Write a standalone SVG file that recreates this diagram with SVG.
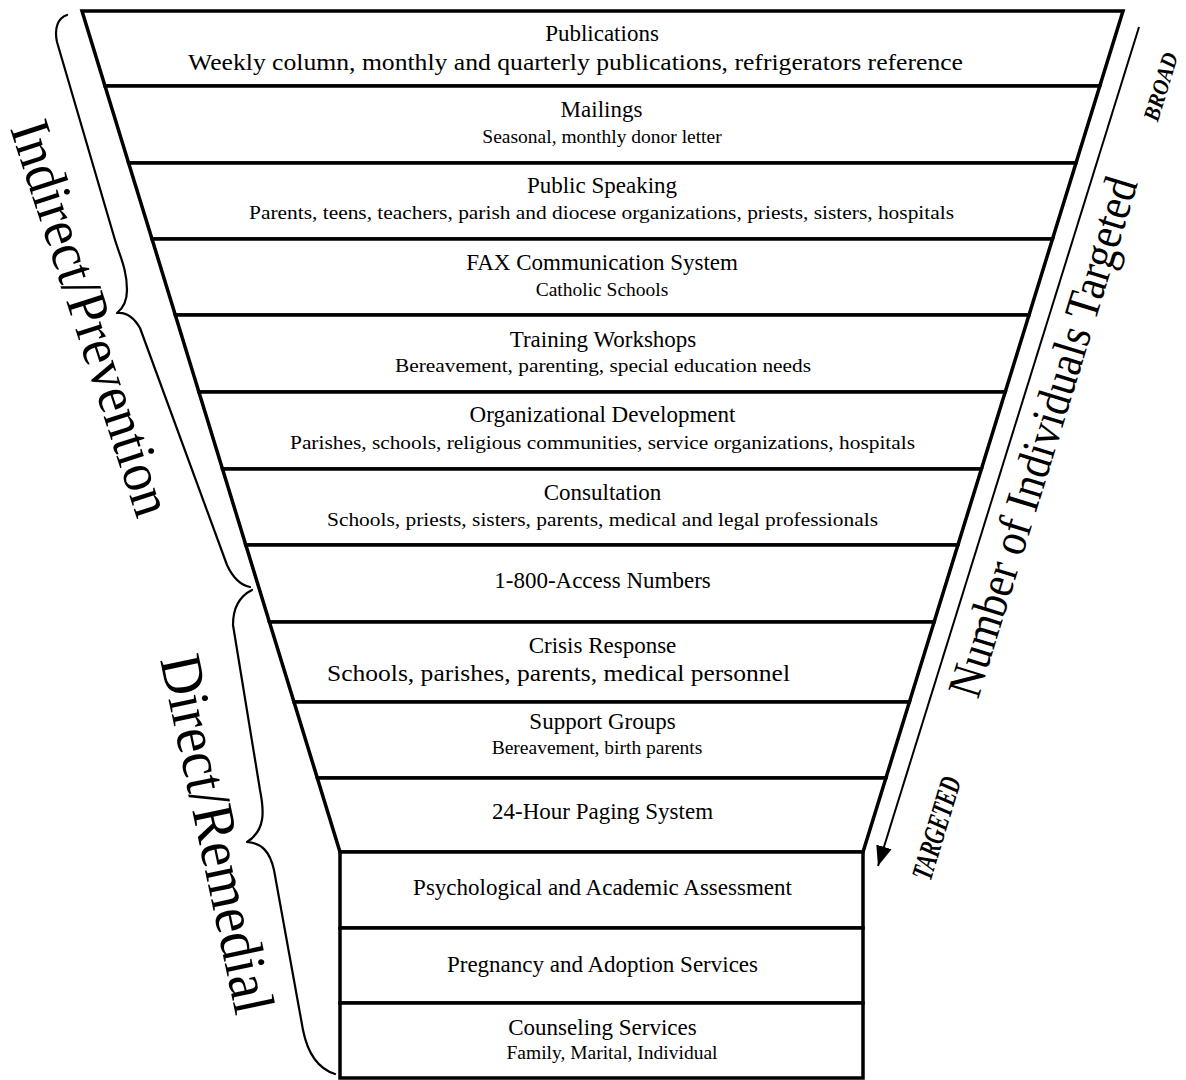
<svg xmlns="http://www.w3.org/2000/svg" width="1186" height="1080" viewBox="0 0 1186 1080">
<defs>
<style>
.band{fill:#fff;stroke:#000;stroke-width:3.5;stroke-linejoin:miter}
.t{font-family:"Liberation Serif","Times New Roman",serif;font-size:23px;fill:#000;text-anchor:middle}
.s{font-family:"Liberation Serif","Times New Roman",serif;font-size:19.5px;fill:#000;text-anchor:middle}
.sl{font-family:"Liberation Serif","Times New Roman",serif;font-size:23px;fill:#000;text-anchor:middle}
.big{font-family:"Liberation Serif","Times New Roman",serif;fill:#000;text-anchor:middle}
.tag{font-family:"Liberation Serif","Times New Roman",serif;font-weight:bold;font-style:italic;fill:#000;text-anchor:middle}
.brace{fill:none;stroke:#000;stroke-width:2.2;stroke-linecap:round;stroke-linejoin:round}
.conn{fill:none;stroke:#000;stroke-width:2}
</style>
<marker id="ah" markerUnits="userSpaceOnUse" markerWidth="24" markerHeight="20" refX="20" refY="8" orient="auto">
<path d="M0,0 L20,8 L0,16 Z" fill="#000"/>
</marker>
</defs>
<rect width="1186" height="1080" fill="#fff"/>

<g id="n-publications">
<polygon class="band" points="82,11 1123,11 1099.8,86 105,86"/>
<text class="t" x="602" y="41">Publications</text>
<text class="sl" x="575.5" y="70" textLength="775" lengthAdjust="spacingAndGlyphs">Weekly column, monthly and quarterly publications, refrigerators reference</text>
</g>
<g id="n-mailings">
<polygon class="band" points="105,86 1099.8,86 1076,163 128.6,163"/>
<text class="t" x="601.5" y="117">Mailings</text>
<text class="s" x="602" y="143">Seasonal, monthly donor letter</text>
</g>
<g id="n-public-speaking">
<polygon class="band" points="128.6,163 1076,163 1052.5,239 152,239"/>
<text class="t" x="602" y="193">Public Speaking</text>
<text class="s" x="601.5" y="219" textLength="705" lengthAdjust="spacingAndGlyphs">Parents, teens, teachers, parish and diocese organizations, priests, sisters, hospitals</text>
</g>
<g id="n-fax">
<polygon class="band" points="152,239 1052.5,239 1029,315 175.3,315"/>
<text class="t" x="602" y="270">FAX Communication System</text>
<text class="s" x="602" y="296">Catholic Schools</text>
</g>
<g id="n-training">
<polygon class="band" points="175.3,315 1029,315 1005.2,392 198.9,392"/>
<text class="t" x="603" y="347">Training Workshops</text>
<text class="s" x="603" y="372" textLength="416" lengthAdjust="spacingAndGlyphs">Bereavement, parenting, special education needs</text>
</g>
<g id="n-orgdev">
<polygon class="band" points="198.9,392 1005.2,392 981.4,469 222.5,469"/>
<text class="t" x="602.5" y="422">Organizational Development</text>
<text class="s" x="602.5" y="449" textLength="625" lengthAdjust="spacingAndGlyphs">Parishes, schools, religious communities, service organizations, hospitals</text>
</g>
<g id="n-consultation">
<polygon class="band" points="222.5,469 981.4,469 957.9,545 245.8,545"/>
<text class="t" x="602.5" y="500">Consultation</text>
<text class="s" x="602.5" y="526" textLength="551" lengthAdjust="spacingAndGlyphs">Schools, priests, sisters, parents, medical and legal professionals</text>
</g>
<g id="n-access">
<polygon class="band" points="245.8,545 957.9,545 934.1,622 269.4,622"/>
<text class="t" x="602.5" y="588">1-800-Access Numbers</text>
</g>
<g id="n-crisis">
<polygon class="band" points="269.4,622 934.1,622 909.4,702 294,702"/>
<text class="t" x="602.5" y="653">Crisis Response</text>
<text class="sl" x="558.5" y="681" textLength="463" lengthAdjust="spacingAndGlyphs">Schools, parishes, parents, medical personnel</text>
</g>
<g id="n-support">
<polygon class="band" points="294,702 909.4,702 885.9,778 317.3,778"/>
<text class="t" x="602.5" y="729">Support Groups</text>
<text class="s" x="597" y="754">Bereavement, birth parents</text>
</g>
<g id="n-paging">
<polygon class="band" points="317.3,778 885.9,778 863,852 340,852"/>
<text class="t" x="602.5" y="819">24-Hour Paging System</text>
</g>
<g id="n-assessment">
<rect class="band" x="340" y="852" width="523" height="76"/>
<text class="t" x="602.5" y="895">Psychological and Academic Assessment</text>
</g>
<g id="n-pregnancy">
<rect class="band" x="340" y="928" width="523" height="75"/>
<text class="t" x="602.5" y="972">Pregnancy and Adoption Services</text>
</g>
<g id="n-counseling">
<rect class="band" x="340" y="1003" width="523" height="75"/>
<text class="t" x="602.5" y="1035">Counseling Services</text>
<text class="s" x="612" y="1059">Family, Marital, Individual</text>
</g>

<g id="group-indirect">
<path class="brace" d="M67,15 C58,18 54,28 57,42 L115,240 C120,256 127,270 127,290 C127,302 122,309 117,313 C125,312 133,316 140,328 L227,565 C233,578 240,585 250,587"/>
<text class="big" font-size="57" transform="translate(73.5,324) rotate(72)" textLength="412" lengthAdjust="spacingAndGlyphs">Indirect/Prevention</text>
</g>
<g id="group-direct">
<path class="brace" d="M252,590 C240,596 233,606 233,625 L260,790 C264,810 266,830 247,842 C262,843 270,852 274,870 L303,1030 C307,1050 316,1068 335,1074"/>
<text class="big" font-size="59" transform="translate(198,838) rotate(78)" textLength="365" lengthAdjust="spacingAndGlyphs">Direct/Remedial</text>
</g>

<g id="connectors">
<line class="conn" x1="1139" y1="27" x2="878" y2="866" marker-end="url(#ah)"/>
</g>
<g id="axis-labels">
<text class="big" font-size="48" transform="translate(1058,441.5) rotate(-72.8)" textLength="541" lengthAdjust="spacingAndGlyphs">Number of Individuals Targeted</text>
<text class="tag" font-size="23" transform="translate(1168,89) rotate(-73)" textLength="70" lengthAdjust="spacingAndGlyphs">BROAD</text>
<text class="tag" font-size="30" transform="translate(946,831) rotate(-73)" textLength="106" lengthAdjust="spacingAndGlyphs">TARGETED</text>
</g>
</svg>
